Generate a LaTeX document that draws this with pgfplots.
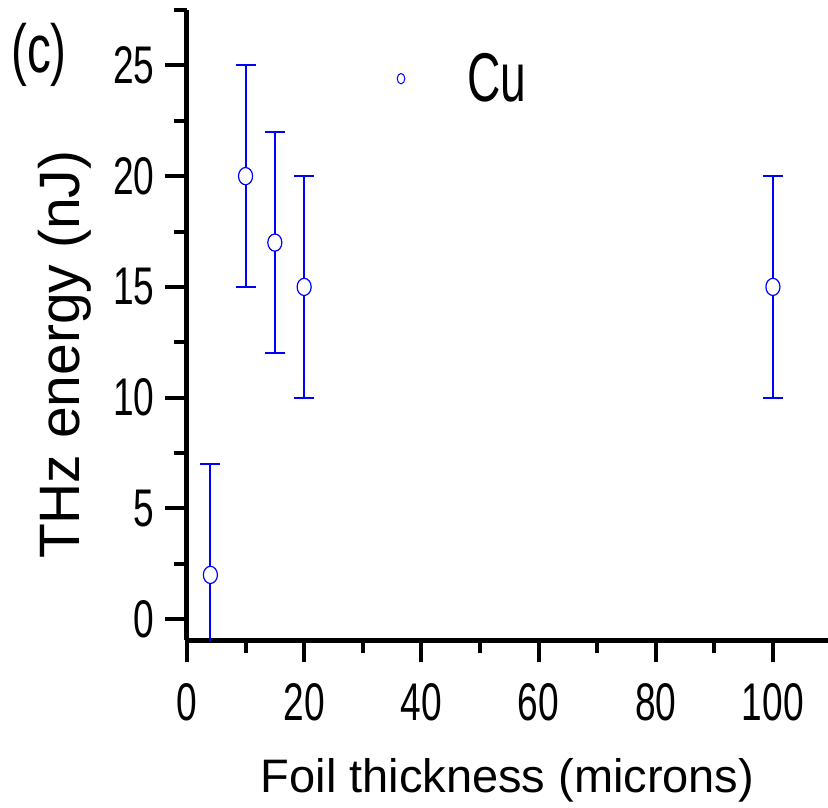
\documentclass[border=0pt]{standalone}
\usepackage{fontspec}
\setmainfont{Liberation Sans}
\newfontfamily\nf{Liberation Sans}[FakeStretch=0.70]
\newfontfamily\nff{Liberation Sans}[FakeStretch=0.67]
\usepackage{pgfplots}
\pgfplotsset{compat=1.18}
\begin{document}
\begin{tikzpicture}
\begin{axis}[
 name=ax, scale only axis, width=320.6pt, height=315.2pt,
 xmin=0, xmax=109.4, ymin=-0.95, ymax=27.5,
 axis x line*=bottom, axis y line*=left,
 axis line style={line width=2.5pt, black},
 xtick={0,20,...,100}, minor xtick={10,30,...,90},
 ytick={0,5,...,25}, minor ytick={2.5,7.5,...,27.5},
 tick align=outside,
 major tick length=11pt, minor tick length=6.5pt,
 every tick/.append style={black, line width=2pt},
 /pgf/number format/assume math mode=true,
 ticklabel style={font=\nf\fontsize{26.5}{28}\selectfont, inner sep=0pt},
 xticklabel shift=10.5pt, yticklabel shift=5pt,
 xlabel={Foil thickness (microns)},
 ylabel={THz energy (nJ)},
 xlabel style={font=\fontsize{23.5}{26}\selectfont, at={(axis description cs:0.5,-0.241)}, anchor=base},
 ylabel style={font=\fontsize{28.5}{30}\selectfont, at={(axis description cs:-0.167,0.453)}, anchor=base},
 legend style={draw=none, fill=none, at={(axis cs:35.8,24.4)}, anchor=west, inner sep=0pt, outer sep=0pt, column sep=0pt, row sep=0pt, nodes={inner sep=0pt}, font=\nff\fontsize{34.5}{36}\selectfont},
]
\addplot[blue, only marks, mark=*, mark size=4.3pt,
  mark options={xscale=0.82, fill=white, draw=blue, line width=0.6pt, solid},
  legend image code/.code={\draw[blue, line width=0.5pt] (0pt,0pt) ellipse (1.9pt and 2.6pt); \path[draw=none] (0pt,0pt) -- (33pt,0pt);},
  error bars/.cd, y dir=both, y explicit,
  error bar style={line width=1pt, blue},
  error mark options={rotate=90, mark size=5pt, line width=1pt, blue}]
 table[x=x, y=y, y error=e] {
x y e
4 2 5
10 20 5
15 17 5
20 15 5
100 15 5
};
\addlegendentry{Cu}
\end{axis}
\node[font=\nf\fontsize{34}{36}\selectfont, inner sep=0pt] at ([xshift=-74pt,yshift=-22.5pt]ax.north west) {(c)};
\pgfresetboundingbox
\path[use as bounding box] ([xshift=-93.5pt,yshift=-83.65pt]ax.south west) rectangle ([yshift=5pt]ax.north east);
\end{tikzpicture}
\end{document}
